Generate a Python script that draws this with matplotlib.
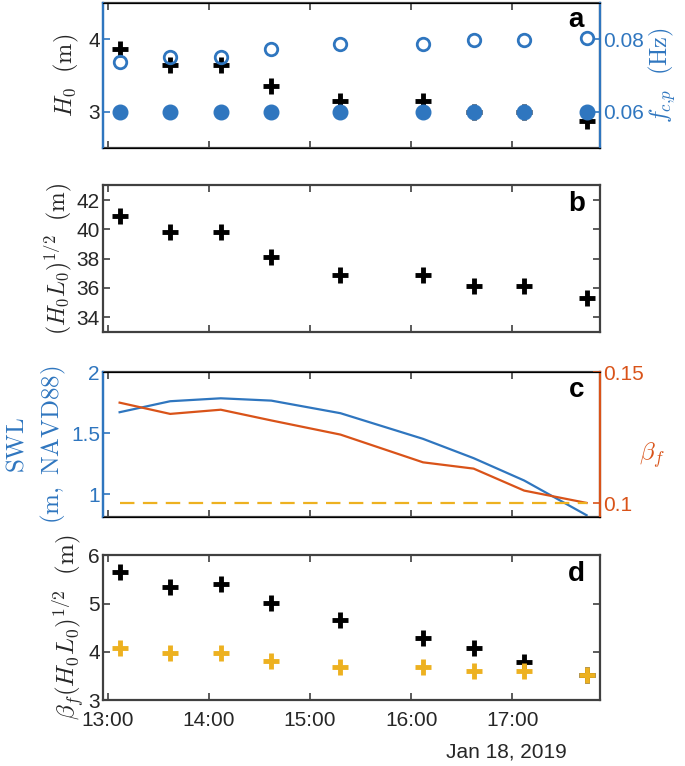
import datetime as dt
import matplotlib
matplotlib.use("Agg")
import matplotlib.pyplot as plt
import matplotlib.dates as mdates

plt.rcParams['font.family'] = ['Liberation Sans', 'DejaVu Sans']
plt.rcParams['mathtext.fontset'] = 'cm'
plt.rcParams['font.size'] = 15

# sample times on Jan 18, 2019 (hour, minute)
hm = [(13, 7), (13, 37), (14, 7), (14, 37), (15, 18), (16, 7), (16, 37), (17, 7), (17, 44)]
times = [dt.datetime(2019, 1, 18, h, m) for h, m in hm]

# panel a
H0 = [3.86, 3.65, 3.65, 3.36, 3.15, 3.15, 3.0, 3.0, 2.87]
f_c = [0.0738, 0.0752, 0.0752, 0.0772, 0.0786, 0.0786, 0.0797, 0.0797, 0.0803]
f_p = [0.06, 0.06, 0.06, 0.06, 0.06, 0.06, 0.06, 0.06, 0.06]

# panel b
sqrt_HL = [40.9, 39.8, 39.8, 38.1, 36.9, 36.9, 36.1, 36.1, 35.3]

# panel c
swl = [1.673, 1.763, 1.787, 1.768, 1.665, 1.455, 1.297, 1.114, 0.83]
beta_f = [0.1384, 0.1341, 0.1357, 0.1316, 0.1262, 0.1156, 0.1132, 0.1048, 0.1001]
beta_const = 0.1

# panel d
d_black = [5.66, 5.34, 5.40, 5.02, 4.66, 4.28, 4.09, 3.80, 3.53]
d_yellow = [4.09, 3.98, 3.98, 3.81, 3.69, 3.69, 3.61, 3.61, 3.53]

blue = '#2F76BF'
orange = '#D95319'
yellow = '#EDB120'
gray = '#404040'
txt = '#262626'

fig = plt.figure(figsize=(6.85, 7.66), dpi=100)
L, W, H = 0.150, 0.726, 0.189
ax_a = fig.add_axes([L, 0.807, W, H])
ax_b = fig.add_axes([L, 0.567, W, 0.191])
ax_c = fig.add_axes([L, 0.325, W, H])
ax_d = fig.add_axes([L, 0.086, W, H])

xlim = (dt.datetime(2019, 1, 18, 12, 57), dt.datetime(2019, 1, 18, 17, 52))

def style(ax, labels=False):
    ax.set_xlim(xlim)
    ax.xaxis.set_major_locator(mdates.HourLocator())
    ax.xaxis.set_major_formatter(mdates.DateFormatter('%H:%M'))
    ax.tick_params(direction='in', length=5, width=1.2, colors=gray,
                   labelcolor=txt, labelsize=15, top=True, pad=2)
    ax.tick_params(axis='x', pad=8)
    if not labels:
        ax.tick_params(labelbottom=False)
    for s in ax.spines.values():
        s.set_color(gray)
        s.set_linewidth(1.6)

def letter(ax, s, y):
    ax.text(0.952, y, s, transform=ax.transAxes, ha='center', va='center',
            fontsize=20, fontweight='bold')

plus = dict(marker='+', ms=12, mew=3.5, ls='none')

# ---- a ----
style(ax_a)
ax_a.plot(times, H0, color='k', **plus)
ax_a.set_ylim(2.5, 4.5)
ax_a.set_yticks([3, 4])
ax_a.set_ylabel(r'$H_0\ \ \mathrm{(m)}$', color=txt, fontsize=17.5, labelpad=5)
ax_a2 = ax_a.twinx()
ax_a2.plot(times, f_c, 'o', ms=9, mfc='none', mec=blue, mew=2)
ax_a2.plot(times, f_p, 'o', ms=10.5, color=blue)
ax_a2.set_ylim(0.05, 0.09)
ax_a2.set_yticks([0.06, 0.08])
ax_a2.tick_params(direction='in', length=5, width=1.2, colors=blue, labelsize=15, pad=2)
ax_a2.set_ylabel(r'$f_{c{,}p}\ \ \mathrm{(Hz)}$', color=blue, fontsize=17.5, rotation=90,
                 labelpad=2)
ax_a.tick_params(axis='y', colors=blue, labelcolor=txt)
for s in ['left', 'right']:
    ax_a2.spines[s].set_color(blue)
    ax_a2.spines[s].set_linewidth(1.6)
ax_a.spines['left'].set_color(blue)
letter(ax_a, 'a', 0.885)

# ---- b ----
style(ax_b)
ax_b.plot(times, sqrt_HL, color='k', **plus)
ax_b.set_ylim(33, 43)
ax_b.set_yticks([34, 36, 38, 40, 42])
ax_b.tick_params(axis='y', right=True)
ax_b.set_ylabel(r'$(H_0L_0)^{1/2}\ \ \mathrm{(m)}$', color=txt, fontsize=17, labelpad=2)
letter(ax_b, 'b', 0.87)

# ---- c ----
style(ax_c)
ax_c.plot(times, swl, color=blue, lw=1.6)
ax_c.set_ylim(0.815, 2.0)
ax_c.set_yticks([1, 1.5, 2])
ax_c.set_yticklabels(['1', '1.5', '2'])
ax_c.tick_params(axis='y', colors=blue, labelcolor=blue)
ax_c.spines['left'].set_color(blue)
ax_c.set_ylabel('$\\mathrm{SWL}$\n$\\mathrm{(m,\\ NAVD88)}$', color=blue, fontsize=18,
                labelpad=2, linespacing=1.5)
ax_c2 = ax_c.twinx()
ax_c2.plot(times, beta_f, color=orange, lw=1.6)
ax_c2.plot([times[0], times[-1]], [beta_const, beta_const], color=yellow, lw=1.6,
           dashes=(6.5, 3.8))
ax_c2.set_ylim(0.0947, 0.15)
ax_c2.set_yticks([0.1, 0.15])
ax_c2.set_yticklabels(['0.1', '0.15'])
ax_c2.tick_params(direction='in', length=5, width=1.2, colors=orange, labelsize=15, pad=2)
ax_c2.spines['right'].set_color(orange)
ax_c2.spines['right'].set_linewidth(1.6)
ax_c2.spines['left'].set_color(blue)
ax_c2.spines['left'].set_linewidth(1.6)
ax_c2.set_ylabel(r'$\beta_f$', color=orange, fontsize=18, rotation=0, va='center')
ax_c2.yaxis.set_label_coords(1.105, 0.43)
letter(ax_c, 'c', 0.875)

# ---- d ----
style(ax_d, labels=True)
ax_d.plot(times, d_black, color='k', **plus)
ax_d.plot(times, d_yellow, color=yellow, **plus)
ax_d.set_ylim(3, 6)
ax_d.set_yticks([3, 4, 5, 6])
ax_d.tick_params(axis='y', right=True)
ax_d.set_ylabel(r'$\beta_f(H_0L_0)^{1/2}\ \ \mathrm{(m)}$', color=txt, fontsize=18, labelpad=2)
letter(ax_d, 'd', 0.87)
fig.text(506 / 685, 1 - 752 / 766, 'Jan 18, 2019', ha='center', va='center',
         fontsize=15, color=txt)

fig.savefig('out.png', dpi=100)
